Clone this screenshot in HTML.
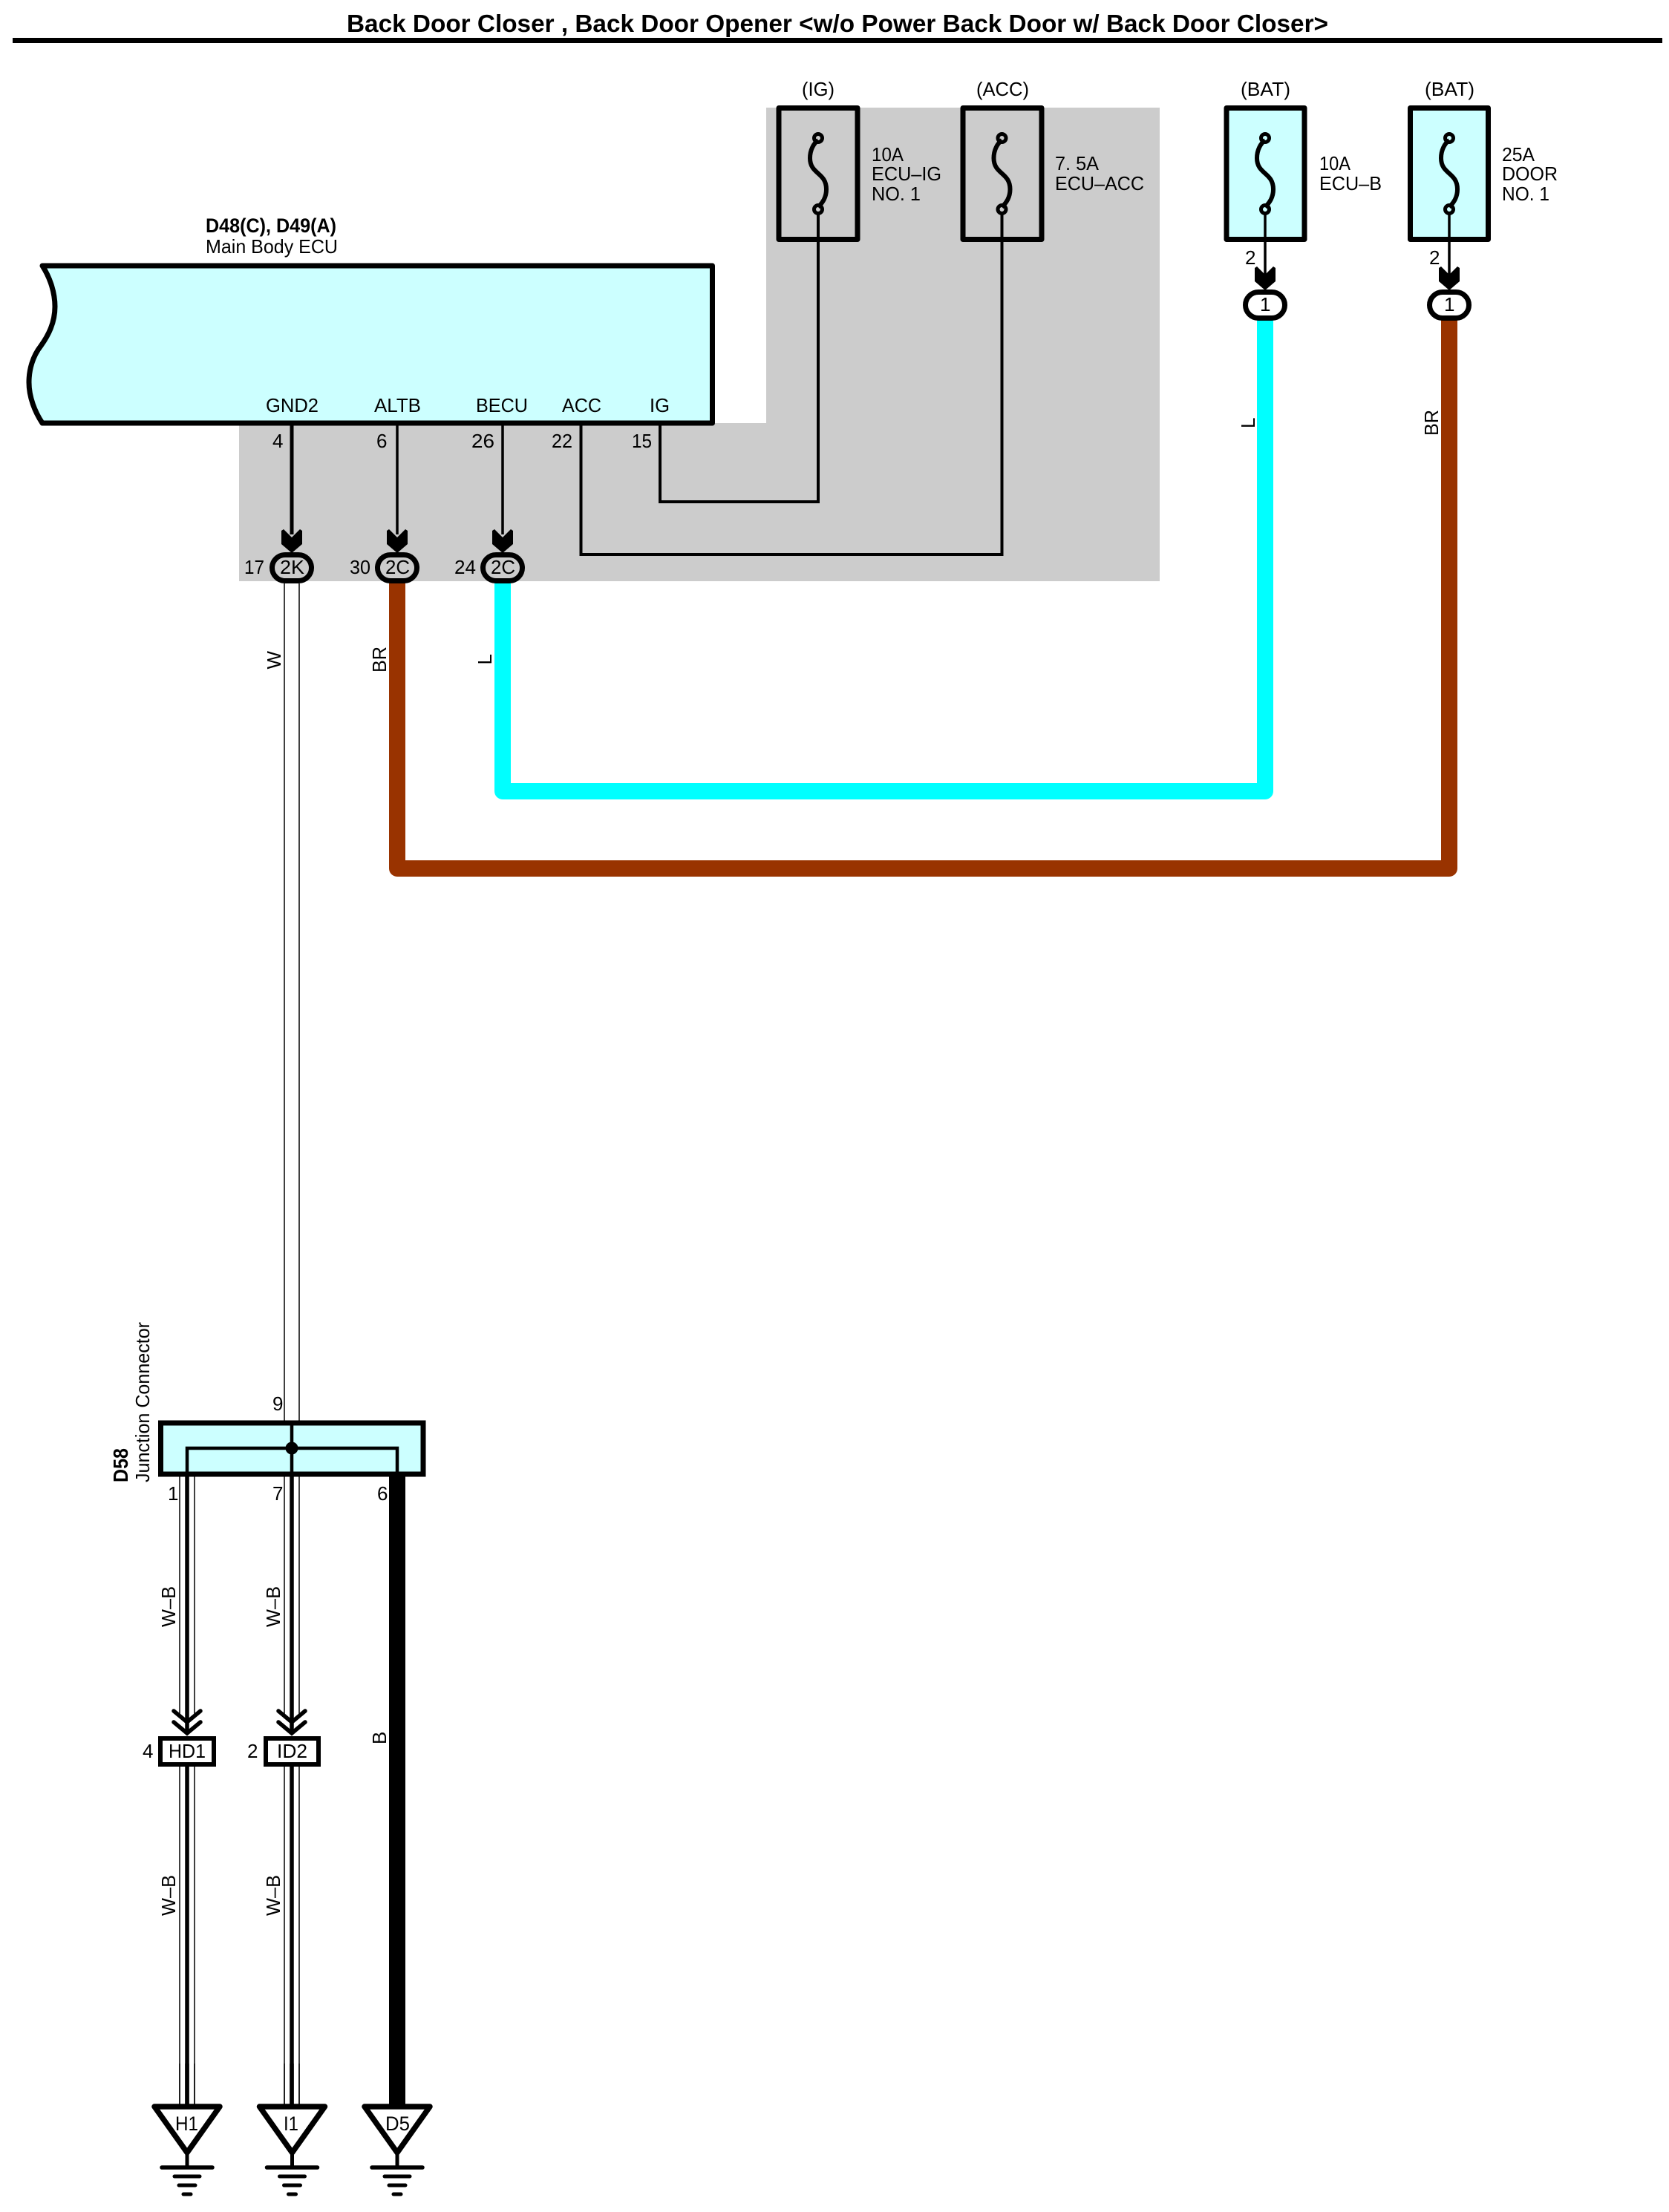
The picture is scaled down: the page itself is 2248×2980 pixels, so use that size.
<!DOCTYPE html>
<html><head><meta charset="utf-8"><title>Back Door Closer</title>
<style>
html,body{margin:0;padding:0;background:#fff}
svg{display:block}
text{font-family:"Liberation Sans",sans-serif;font-size:26px;fill:#000}
.b{font-weight:bold}
</style></head><body>
<svg xmlns="http://www.w3.org/2000/svg" xmlns:xlink="http://www.w3.org/1999/xlink" width="2248" height="2980" viewBox="0 0 2248 2980">
<defs>
<polygon id="arr" points="-14,2 -11,0 -2,9 0,11 2,9 11,0 14,2 14,20 0,32 -14,20" fill="#000"/>
<g id="fuse" fill="none" stroke="#000">
<path d="M0,189 C-6,193 -11,202 -11,213 C-11,235 11,232 11,255 C11,266 6,273 0,279" stroke-width="6"/>
<circle cx="0" cy="186" r="5.500" stroke-width="5"/>
<circle cx="0" cy="282" r="5.500" stroke-width="5"/>
</g>
<g id="gnd" stroke="#000" stroke-linecap="round" fill="none">
<path d="M0,2900V2920" stroke-width="5"/>
<path d="M-34,2920H34" stroke-width="5.500"/>
<path d="M-17,2932H17" stroke-width="5"/>
<path d="M-11,2944H11" stroke-width="5"/>
<path d="M-5,2956H5" stroke-width="5"/>
<path d="M-44,2838H44L0,2900Z" stroke-width="7.500" stroke-linejoin="round" fill="#fff"/>
</g>
</defs>
<rect width="2248" height="2980" fill="#fff"/>

<!-- title -->
<text class="b" x="467" y="43" style="font-size:33px" textLength="1322" lengthAdjust="spacingAndGlyphs">Back Door Closer , Back Door Opener &lt;w/o Power Back Door w/ Back Door Closer&gt;</text>
<rect x="17" y="51" width="2222" height="7" fill="#000"/>

<!-- gray area -->
<polygon points="1032,145 1562,145 1562,783 322,783 322,570 1032,570" fill="#CCCCCC"/>

<!-- ECU -->
<path d="M57,358 C68,375 74,395 74,413 C74,435 65,452 55,466 C44,480 39,498 39,515 C39,535 47,555 57,570 L959.500,570 L959.500,358 Z" fill="#CCFFFF" stroke="#000" stroke-width="7" stroke-linejoin="round"/>
<text class="b" x="277" y="313" style="font-size:27px" textLength="176" lengthAdjust="spacingAndGlyphs">D48(C), D49(A)</text>
<text x="277" y="341" textLength="178" lengthAdjust="spacingAndGlyphs">Main Body ECU</text>
<text x="358" y="555" textLength="71" lengthAdjust="spacingAndGlyphs">GND2</text>
<text x="504" y="555" textLength="63" lengthAdjust="spacingAndGlyphs">ALTB</text>
<text x="641" y="555" textLength="70" lengthAdjust="spacingAndGlyphs">BECU</text>
<text x="757" y="555" textLength="53" lengthAdjust="spacingAndGlyphs">ACC</text>
<text x="875" y="555" textLength="27" lengthAdjust="spacingAndGlyphs">IG</text>
<text x="367" y="603">4</text>
<text x="507" y="603">6</text>
<text x="635" y="603" textLength="31" lengthAdjust="spacingAndGlyphs">26</text>
<text x="743" y="603" textLength="28" lengthAdjust="spacingAndGlyphs">22</text>
<text x="851" y="603" textLength="27" lengthAdjust="spacingAndGlyphs">15</text>

<!-- colored wires -->
<path d="M677,780V1066H1704V425" fill="none" stroke="#00FFFF" stroke-width="22" stroke-linejoin="round"/>
<path d="M535,780V1170H1952V425" fill="none" stroke="#993300" stroke-width="22" stroke-linejoin="round"/>

<!-- ECU wires -->
<g fill="none" stroke="#000">
<path d="M393,573V720" stroke-width="5"/>
<path d="M535,573V720" stroke-width="3.500"/>
<path d="M677,573V720" stroke-width="3.500"/>
<path d="M782.500,573V747H1349.500V287" stroke-width="4"/>
<path d="M889,573V676H1102V287" stroke-width="4"/>
</g>

<!-- fuses -->
<g fill="none" stroke="#000" stroke-width="7" stroke-linejoin="round">
<rect x="1049" y="145.500" width="106" height="177"/>
<rect x="1297" y="145.500" width="106" height="177"/>
<rect x="1652" y="145.500" width="105" height="177" fill="#CCFFFF"/>
<rect x="1899.500" y="145.500" width="105" height="177" fill="#CCFFFF"/>
</g>
<use xlink:href="#fuse" href="#fuse" x="1102"/>
<use xlink:href="#fuse" href="#fuse" x="1349.500"/>
<use xlink:href="#fuse" href="#fuse" x="1704"/>
<use xlink:href="#fuse" href="#fuse" x="1952"/>
<path d="M1704,287V370M1952,287V370" stroke="#000" stroke-width="3.500" fill="none"/>
<text x="1080" y="129" textLength="44" lengthAdjust="spacingAndGlyphs">(IG)</text>
<text x="1315" y="129" textLength="71" lengthAdjust="spacingAndGlyphs">(ACC)</text>
<text x="1671" y="129" textLength="67" lengthAdjust="spacingAndGlyphs">(BAT)</text>
<text x="1919" y="129" textLength="67" lengthAdjust="spacingAndGlyphs">(BAT)</text>
<text x="1174" y="217" textLength="43" lengthAdjust="spacingAndGlyphs">10A</text>
<text x="1174" y="243" textLength="94" lengthAdjust="spacingAndGlyphs">ECU–IG</text>
<text x="1174" y="270" textLength="66" lengthAdjust="spacingAndGlyphs">NO. 1</text>
<text x="1421" y="229" textLength="59" lengthAdjust="spacingAndGlyphs">7. 5A</text>
<text x="1421" y="256" textLength="120" lengthAdjust="spacingAndGlyphs">ECU–ACC</text>
<text x="1777" y="229" textLength="42" lengthAdjust="spacingAndGlyphs">10A</text>
<text x="1777" y="256" textLength="84" lengthAdjust="spacingAndGlyphs">ECU–B</text>
<text x="2023" y="217" textLength="44" lengthAdjust="spacingAndGlyphs">25A</text>
<text x="2023" y="243" textLength="75" lengthAdjust="spacingAndGlyphs">DOOR</text>
<text x="2023" y="270" textLength="64" lengthAdjust="spacingAndGlyphs">NO. 1</text>
<text x="1677" y="356">2</text>
<text x="1925" y="356">2</text>

<!-- arrows -->
<use xlink:href="#arr" href="#arr" x="393" y="713"/>
<use xlink:href="#arr" href="#arr" x="535" y="713"/>
<use xlink:href="#arr" href="#arr" x="677" y="713"/>
<use xlink:href="#arr" href="#arr" x="1704" y="359"/>
<use xlink:href="#arr" href="#arr" x="1952" y="359"/>

<!-- ovals -->
<g fill="#CCCCCC" stroke="#000" stroke-width="7">
<rect x="366.500" y="747.500" width="53" height="35" rx="17.500"/>
<rect x="508.500" y="747.500" width="53" height="35" rx="17.500"/>
<rect x="650.500" y="747.500" width="53" height="35" rx="17.500"/>
<rect x="1677.500" y="393.500" width="53" height="35" rx="17.500" fill="#fff"/>
<rect x="1925.500" y="393.500" width="53" height="35" rx="17.500" fill="#fff"/>
</g>
<text x="377" y="773" textLength="33" lengthAdjust="spacingAndGlyphs">2K</text>
<text x="519" y="773" textLength="33" lengthAdjust="spacingAndGlyphs">2C</text>
<text x="661" y="773" textLength="33" lengthAdjust="spacingAndGlyphs">2C</text>
<text x="1697" y="419">1</text>
<text x="1945" y="419">1</text>
<text x="329" y="773" textLength="27" lengthAdjust="spacingAndGlyphs">17</text>
<text x="471" y="773" textLength="28" lengthAdjust="spacingAndGlyphs">30</text>
<text x="612" y="773" textLength="29" lengthAdjust="spacingAndGlyphs">24</text>

<!-- W wire -->
<path d="M383,786V1915M403,786V1915" stroke="#000" stroke-width="1.500" fill="none"/>

<!-- wires below junction -->
<g fill="none" stroke="#000">
<path d="M242,1989V2312M262,1989V2312M383,1989V2312M403,1989V2312" stroke-width="1.500"/>
<path d="M242,2380V2838M262,2380V2838M383,2380V2838M403,2380V2838" stroke-width="1.500"/>
<path d="M252,1986V2335M393,1986V2335" stroke-width="5.500"/>
<path d="M252,2380V2838M393,2380V2838" stroke-width="5.500"/>
<path d="M535,1986V2838" stroke-width="22"/>
</g>

<!-- junction -->
<rect x="216.500" y="1917" width="353.500" height="69" fill="#CCFFFF" stroke="#000" stroke-width="7"/>
<path d="M393,1917V1986M252,1986V1951H535V1986" fill="none" stroke="#000" stroke-width="4.500"/>
<circle cx="393" cy="1951" r="8.500" fill="#000"/>
<text x="367" y="1900">9</text>
<text x="226" y="2021">1</text>
<text x="367" y="2021">7</text>
<text x="508" y="2021">6</text>
<text class="b" transform="translate(172,1997) rotate(-90)" style="font-size:28px" textLength="46" lengthAdjust="spacingAndGlyphs">D58</text>
<text transform="translate(201,1997) rotate(-90)" textLength="216" lengthAdjust="spacingAndGlyphs">Junction Connector</text>

<!-- chevrons -->
<g fill="none" stroke="#000" stroke-width="5.500" stroke-linecap="round">
<path d="M234,2305L252,2320L270,2305M234,2320L252,2335L270,2320"/>
<path d="M375,2305L393,2320L411,2305M375,2320L393,2335L411,2320"/>
</g>

<!-- HD1 / ID2 -->
<rect x="216" y="2342" width="72" height="35" fill="#fff" stroke="#000" stroke-width="6"/>
<rect x="358" y="2342" width="71" height="35" fill="#fff" stroke="#000" stroke-width="6"/>
<text x="227" y="2368" textLength="50" lengthAdjust="spacingAndGlyphs">HD1</text>
<text x="373" y="2368" textLength="41" lengthAdjust="spacingAndGlyphs">ID2</text>
<text x="192" y="2368">4</text>
<text x="333" y="2368">2</text>

<!-- ground -->
<use xlink:href="#gnd" href="#gnd" x="252"/>
<use xlink:href="#gnd" href="#gnd" x="393.500"/>
<use xlink:href="#gnd" href="#gnd" x="535"/>
<path d="M242,2780V2838M262,2780V2838M383,2780V2838M403,2780V2838" stroke="#000" stroke-width="1.500" fill="none"/>
<path d="M252,2780V2838M393,2780V2838" stroke="#000" stroke-width="5.500" fill="none"/>
<path d="M535,2780V2838" stroke="#000" stroke-width="22" fill="none"/>
<text x="236" y="2870" style="font-size:27px" textLength="31" lengthAdjust="spacingAndGlyphs">H1</text>
<text x="382" y="2870" style="font-size:27px" textLength="20" lengthAdjust="spacingAndGlyphs">I1</text>
<text x="519" y="2870" style="font-size:27px" textLength="33" lengthAdjust="spacingAndGlyphs">D5</text>

<!-- wire colour labels -->
<text transform="translate(378,901.500) rotate(-90)" textLength="24.500" lengthAdjust="spacingAndGlyphs">W</text>
<text transform="translate(520,906) rotate(-90)" textLength="35" lengthAdjust="spacingAndGlyphs">BR</text>
<text transform="translate(662,895.500) rotate(-90)">L</text>
<text transform="translate(1690,577) rotate(-90)">L</text>
<text transform="translate(1937,587) rotate(-90)" textLength="35" lengthAdjust="spacingAndGlyphs">BR</text>
<text transform="translate(236,2192) rotate(-90)" textLength="55" lengthAdjust="spacingAndGlyphs">W–B</text>
<text transform="translate(377,2192) rotate(-90)" textLength="55" lengthAdjust="spacingAndGlyphs">W–B</text>
<text transform="translate(236,2581) rotate(-90)" textLength="55" lengthAdjust="spacingAndGlyphs">W–B</text>
<text transform="translate(377,2581) rotate(-90)" textLength="55" lengthAdjust="spacingAndGlyphs">W–B</text>
<text transform="translate(520,2350) rotate(-90)">B</text>
</svg>
</body></html>
